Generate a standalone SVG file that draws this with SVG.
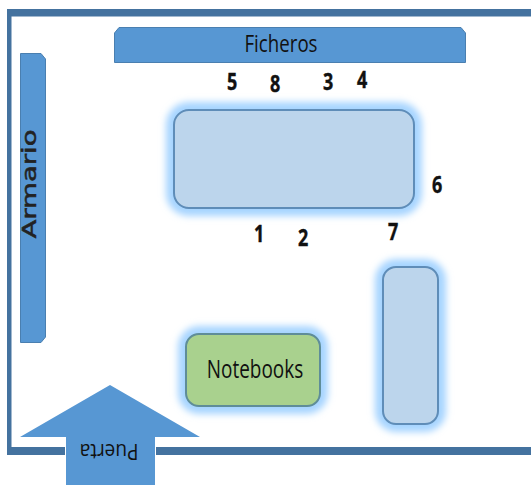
<svg xmlns="http://www.w3.org/2000/svg" width="531" height="485" viewBox="0 0 531 485">
<style>
.shape{fill:#5797d3;stroke:#4a7fb0;stroke-width:1}
.wall{fill:#44729f}
.desk{fill:#bcd5ec;stroke:#5f8db8;stroke-width:2}
.glow{fill:#a6d4ff;stroke:#a6d4ff;stroke-width:16;filter:url(#blur)}
text{font-family:"Open Sans","Liberation Sans",sans-serif;fill:#111}
.num{font-size:23px;font-weight:700;text-anchor:middle;stroke:#111;stroke-width:.4}
.lbl{font-size:22px;text-anchor:middle}
</style>
<defs><filter id="blur" x="-30%" y="-30%" width="160%" height="160%"><feGaussianBlur stdDeviation="3.5"/></filter></defs>
<rect width="531" height="485" fill="#fff"/>
<g id="room"><rect class="wall" x="7" y="9" width="524" height="7.500"/><rect class="wall" x="7" y="9" width="4.500" height="446"/><rect class="wall" x="7" y="447" width="524" height="8"/></g>
<g id="ficheros"><path class="shape" d="M114.500 62.500V33L119 27.500H461L465.500 33V62.500Z"/><text class="lbl" transform="translate(281 52) scale(.85 1.1)">Ficheros</text></g>
<g id="armario"><path class="shape" d="M20.500 53.500H41L45.500 59V337L41 342.500H20.500Z"/><text transform="translate(36 184) rotate(-90) scale(1.45 1)" style="font-family:'DejaVu Sans',sans-serif;font-size:19px;text-anchor:middle;fill:#222;stroke:#222;stroke-width:.5">Armario</text></g>
<g id="mesa-central"><rect class="glow" x="174" y="110" width="240" height="98" rx="15"/><rect class="desk" x="174" y="110" width="240" height="98" rx="15"/></g>
<g id="mesa-derecha"><rect class="glow" x="383" y="267" width="55" height="157" rx="13"/><rect class="desk" x="383" y="267" width="55" height="157" rx="13"/></g>
<g id="notebooks"><rect class="glow" x="186" y="334" width="134" height="72" rx="13"/><rect x="186" y="334" width="134" height="72" rx="13" fill="#a9d18e" stroke="#5f8d98" stroke-width="2"/><text class="lbl" transform="translate(255 378) scale(.79 1.05)" style="font-size:24px">Notebooks</text></g>
<g id="puerta"><rect x="65" y="440" width="91" height="16" fill="#fff"/><path class="shape" style="stroke:none" d="M110 385L200 437H155V485H66V437H20Z"/><text class="lbl" transform="translate(109 444) rotate(180) scale(.95 1.05)" style="font-size:20px">Puerta</text></g>
<g id="numeros">
<text class="num" transform="translate(232 90) scale(.78 1)">5</text>
<text class="num" transform="translate(275 92) scale(.78 1)">8</text>
<text class="num" transform="translate(328 90) scale(.78 1)">3</text>
<text class="num" transform="translate(362 88) scale(.78 1)">4</text>
<text class="num" transform="translate(437 193) scale(.78 1)">6</text>
<text class="num" transform="translate(259 242) scale(.78 1)">1</text>
<text class="num" transform="translate(303 246) scale(.78 1)">2</text>
<text class="num" transform="translate(393 240) scale(.78 1)">7</text>
</g>
</svg>
